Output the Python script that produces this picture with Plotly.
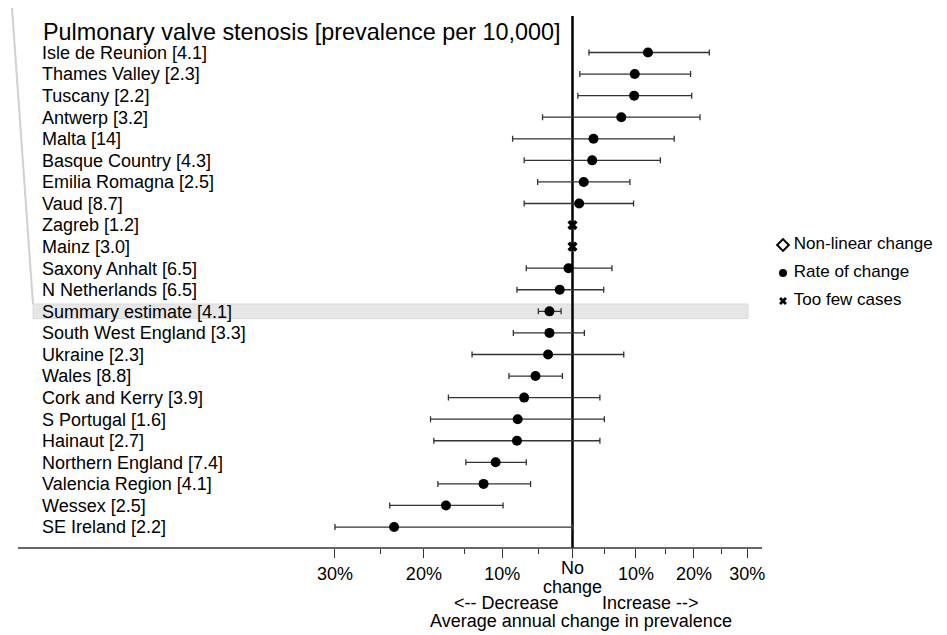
import numpy as np
import plotly.graph_objects as go

# registries, top to bottom as they appear in the forest plot
regions = [
    'Isle de Reunion', 'Thames Valley', 'Tuscany', 'Antwerp', 'Malta',
    'Basque Country', 'Emilia Romagna', 'Vaud', 'Zagreb', 'Mainz',
    'Saxony Anhalt', 'N Netherlands', 'Summary estimate', 'South West England',
    'Ukraine', 'Wales', 'Cork and Kerry', 'S Portugal', 'Hainaut',
    'Northern England', 'Valencia Region', 'Wessex', 'SE Ireland'
]

prevalence = [
    '4.1', '2.3', '2.2', '3.2', '14', '4.3', '2.5', '8.7', '1.2', '3.0',
    '6.5', '6.5', '4.1', '3.3', '2.3', '8.8', '3.9', '1.6', '2.7', '7.4',
    '4.1', '2.5', '2.2'
]

# average annual change in %, with 95% interval
change = [
    12.0, 9.8, 9.7, 7.6, 3.2, 3.0, 1.7, 1.0, 0.0, 0.0, -0.6, -1.9,
    -3.4, -3.4, -3.6, -5.4, -7.0, -7.9, -8.0, -10.9, -12.5, -17.3, -23.5
]
ci_low = [
    2.5, 1.1, 0.8, -4.4, -8.6, -7.0, -5.1, -7.0, None, None, -6.7, -8.0,
    -5.0, -8.5, -14.0, -9.1, -17.0, -19.2, -18.8, -14.8, -18.3, -24.0, -30.0
]
ci_high = [
    22.8, 19.4, 19.6, 21.1, 16.5, 14.1, 9.0, 9.6, None, None, 6.1, 4.8,
    -1.7, 1.8, 8.0, -1.5, 4.2, 4.9, 4.2, -6.7, -6.1, -9.9, 0.0
]
status = [
    'rate', 'rate', 'rate', 'rate', 'rate', 'rate', 'rate', 'rate', 'few', 'few',
    'rate', 'rate', 'rate', 'rate', 'rate', 'rate', 'rate', 'rate', 'rate',
    'rate', 'rate', 'rate', 'rate'
]

tick_pct = [-30, -20, -10, 0, 10, 20, 30]
tick_text = ['30%', '20%', '10%', '', '10%', '20%', '30%']
minor_pct = [-25, -15, -5, 5, 15, 25]

legend_names = ['Non-linear change', 'Rate of change', 'Too few cases']
legend_rows = [0, 1, 2]

FONT = 'Liberation Sans, Arial, sans-serif'

# the page body adds an 8px margin, so the figure sits at (8, 8) on screen
OFF = 8
W, H = 947 - OFF, 635 - OFF
PLOT_H = 548 - OFF
ZERO = 572.5 - OFF     # screen x of "no change"
SCALE = 666            # px per unit of log(1 + rate)
ROW0, ROW_STEP = 52.5 - OFF, 21.57


def to_log(pct):
    # the axis is drawn on log(1 + rate)
    return np.log1p(np.array(pct, dtype = float) / 100)


def px_x(p):
    return (p - OFF) / W


def px_y(p):
    return (PLOT_H - (p - OFF)) / PLOT_H


labels = [f'{r} [{p}]' for r, p in zip(regions, prevalence)]

rate_idx = [i for i, s in enumerate(status) if s == 'rate']
few_idx = [i for i, s in enumerate(status) if s == 'few']

rate_x = to_log([change[i] for i in rate_idx])
rate_hi = to_log([ci_high[i] for i in rate_idx]) - rate_x
rate_lo = rate_x - to_log([ci_low[i] for i in rate_idx])

fig = go.Figure()

fig.add_trace(
    go.Scatter(
        x = rate_x,
        y = [labels[i] for i in rate_idx],
        mode = 'markers',
        marker = dict(symbol = 'circle', size = 10, color = 'black'),
        error_x = dict(
            type = 'data',
            symmetric = False,
            array = rate_hi,
            arrayminus = rate_lo,
            color = '#333333',
            thickness = 1.3,
            width = 3
        )
    )
)

fig.add_trace(
    go.Scatter(
        x = to_log([change[i] for i in few_idx]),
        y = [labels[i] for i in few_idx],
        mode = 'markers',
        marker = dict(symbol = 'x', size = 9, color = 'black', line = dict(width = 0))
    )
)

# hand drawn key on its own small axes (1 unit = 8px across)
legend_markers = [
    dict(symbol = 'diamond-open', size = 9, color = 'black', line = dict(width = 2, color = 'black')),
    dict(symbol = 'circle', size = 8, color = 'black'),
    dict(symbol = 'x', size = 7, color = 'black', line = dict(width = 0))
]

for row, marker in zip(legend_rows, legend_markers):
    fig.add_trace(
        go.Scatter(
            x = [0], y = [row], mode = 'markers', marker = marker,
            xaxis = 'x2', yaxis = 'y2'
        )
    )

fig.add_trace(
    go.Scatter(
        x = [1.35] * len(legend_names), y = legend_rows, text = legend_names,
        mode = 'text', textposition = 'middle right', cliponaxis = False,
        textfont = dict(size = 17, color = 'black', family = FONT),
        xaxis = 'x2', yaxis = 'y2'
    )
)

# summary band
si = regions.index('Summary estimate')
fig.add_shape(
    type = 'rect', xref = 'paper', yref = 'y',
    x0 = px_x(33), x1 = px_x(748), y0 = si - 0.34, y1 = si + 0.34,
    fillcolor = '#e6e6e6', line = dict(color = '#dadada', width = 1), layer = 'below'
)

# no change line
fig.add_shape(
    type = 'line', xref = 'x', yref = 'paper',
    x0 = 0, x1 = 0, y0 = 0, y1 = px_y(16),
    line = dict(color = 'black', width = 2.5), layer = 'below'
)

# bottom axis line
fig.add_shape(
    type = 'line', xref = 'paper', yref = 'paper',
    x0 = px_x(18), x1 = px_x(762), y0 = 0, y1 = 0,
    line = dict(color = '#333333', width = 1.3)
)

# faint frame edge at the left
fig.add_shape(
    type = 'line', xref = 'paper', yref = 'paper',
    x0 = px_x(12), x1 = px_x(33), y0 = px_y(8), y1 = px_y(304),
    line = dict(color = '#d0d0d0', width = 2)
)

fig.add_annotation(
    text = 'Pulmonary valve stenosis [prevalence per 10,000]',
    xref = 'paper', yref = 'paper', x = px_x(41), y = px_y(32),
    xanchor = 'left', yanchor = 'middle', showarrow = False,
    font = dict(size = 23.4, color = 'black', family = FONT)
)

for text, x, y in [
    ('No', 572, 568),
    ('change', 572, 587),
    ('<-- Decrease', 507, 603),
    ('Increase -->', 650, 603),
    ('Average annual change in prevalence', 581, 621)
]:
    fig.add_annotation(
        text = text, xref = 'paper', yref = 'paper', x = px_x(x), y = px_y(y),
        xanchor = 'center', yanchor = 'middle', showarrow = False,
        font = dict(size = 18, color = 'black', family = FONT)
    )

fig.update_layout(
    xaxis = dict(
        range = [-ZERO / SCALE, (W - ZERO) / SCALE],
        tickvals = to_log(tick_pct),
        ticktext = tick_text,
        ticks = 'outside',
        ticklen = 9,
        tickwidth = 1.3,
        tickcolor = '#333333',
        minor = dict(tickvals = to_log(minor_pct), ticks = 'outside', ticklen = 5, tickwidth = 1.3, tickcolor = '#333333'),
        showgrid = False,
        zeroline = False,
        showline = False,
        tickfont = dict(size = 18, color = 'black', family = FONT)
    ),
    yaxis = dict(
        type = 'category',
        categoryorder = 'array',
        categoryarray = labels,
        tickvals = labels,
        range = [(PLOT_H - ROW0) / ROW_STEP, -ROW0 / ROW_STEP],
        ticklabelposition = 'inside',
        ticklabelstandoff = 31,
        ticks = '',
        showgrid = False,
        zeroline = False,
        showline = False,
        tickfont = dict(size = 18, color = 'black', family = FONT)
    ),
    xaxis2 = dict(
        domain = [px_x(775), 1],
        range = [-1, (W - (775 - OFF)) / 8 - 1],
        anchor = 'y2',
        visible = False
    ),
    yaxis2 = dict(
        domain = [px_y(315), px_y(231)],
        range = [2.5, -0.5],
        anchor = 'x2',
        visible = False
    ),
    width = W,
    height = H,
    margin = dict(l = 0, r = 0, t = 0, b = H - PLOT_H),
    paper_bgcolor = 'white',
    plot_bgcolor = 'rgba(0,0,0,0)',
    font = dict(family = FONT, color = 'black'),
    showlegend = False
)

fig.write_html('out.html')
